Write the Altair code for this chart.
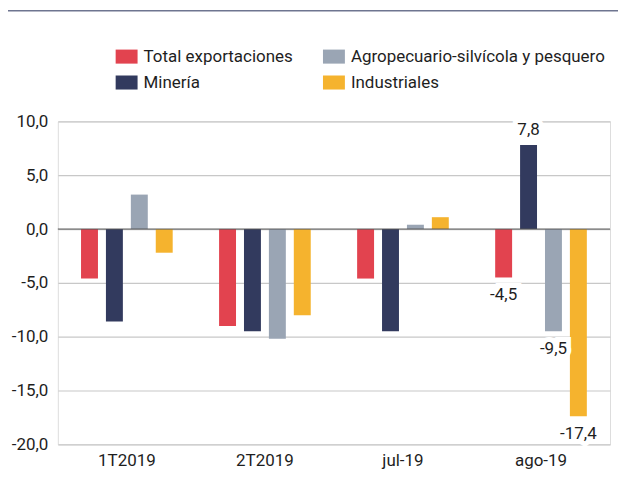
import altair as alt
import pandas as pd

periods = ["1T2019", "2T2019", "jul-19", "ago-19"]
series = ["Total exportaciones", "Minería", "Agropecuario-silvícola y pesquero", "Industriales"]
total = [-4.6, -9.0, -4.6, -4.5]
mineria = [-8.6, -9.5, -9.5, 7.8]
agro = [3.2, -10.2, 0.4, -9.5]
industriales = [-2.2, -8.0, 1.1, -17.4]
series_colors = ["#E2434F", "#323A5E", "#9AA5B4", "#F5B32E"]
labeled_period = "ago-19"
y_ticks = [-20, -15, -10, -5, 0, 5, 10]

values_by_series = dict(zip(series, [total, mineria, agro, industriales]))
rows = []
for s in series:
    for p, v in zip(periods, values_by_series[s]):
        rows.append({"periodo": p, "serie": s, "valor": v,
                     "etiqueta": f"{v:.1f}".replace(".", ",")})
df = pd.DataFrame(rows)

FONT = "Roboto"
TXT = "#1E1E1E"
FS = 17
W, H = 554, 324

x_enc = alt.X("periodo:N", sort=periods,
              scale=alt.Scale(paddingInner=0.336, paddingOuter=0.168),
              axis=alt.Axis(title=None, labelAngle=0, domain=False, ticks=False,
                            labelPadding=8, labelFontSize=FS, labelColor=TXT,
                            labelFont=FONT))
xo_enc = alt.XOffset("serie:N", sort=series,
                     scale=alt.Scale(paddingInner=0.32, paddingOuter=0))
y_enc = alt.Y("valor:Q", scale=alt.Scale(domain=[-20, 10], nice=False),
              axis=alt.Axis(title=None, values=y_ticks,
                            labelExpr="(datum.value < 0 ? '-' : '') + replace(format(abs(datum.value), '.1f'), '.', ',')",
                            domain=False, ticks=False, gridColor="#C8C8C8",
                            gridWidth=1.2, labelPadding=10, labelFontSize=FS,
                            labelColor=TXT, labelFont=FONT))

base = alt.Chart(df)

bars = base.mark_bar().encode(
    x=x_enc, xOffset=xo_enc, y=y_enc,
    color=alt.Color("serie:N",
                    scale=alt.Scale(domain=series, range=series_colors),
                    legend=alt.Legend(title=None, orient="none", legendX=58, legendY=-76,
                                      columns=2, columnPadding=30, rowPadding=7,
                                      symbolType="M-1,-0.64H1V0.64H-1Z",
                                      symbolSize=484, symbolStrokeWidth=0,
                                      symbolOpacity=1,
                                      labelFontSize=FS, labelColor=TXT,
                                      labelFont=FONT, labelOffset=6, labelLimit=300))
)

zero = alt.Chart(pd.DataFrame({"y": [0]})).mark_rule(color="#555555", strokeWidth=1).encode(
    y=alt.Y("y:Q"))

lab = base.transform_filter(alt.datum.periodo == labeled_period)
pos = lab.transform_filter(alt.datum.valor > 0)
neg = lab.transform_filter(alt.datum.valor < 0)

def text_layers(src, baseline, dy):
    enc = dict(x=alt.X("periodo:N", sort=periods),
               xOffset=alt.XOffset("serie:N", sort=series),
               y="valor:Q", text="etiqueta:N")
    halo = src.mark_text(baseline=baseline, dy=dy, fontSize=FS, font=FONT,
                         stroke="white", strokeWidth=10, color="white").encode(**enc)
    txt = src.mark_text(baseline=baseline, dy=dy, fontSize=FS, font=FONT,
                        color=TXT).encode(**enc)
    return [halo, txt]

top_line = alt.Chart(pd.DataFrame({"a": [0]})).mark_rule(
    color="#6E7590", strokeWidth=1.6).encode(
    x=alt.value(-50), x2=alt.value(W + 8), y=alt.value(-111))

chart = alt.layer(
    bars, zero, *text_layers(pos, "bottom", -6), *text_layers(neg, "top", 10), top_line
).properties(
    width=W, height=H,
    padding={"left": 50, "top": 113, "right": 8, "bottom": 28},
    autosize=alt.AutoSizeParams(type="none"),
).configure_view(stroke=None).configure(font=FONT)

chart.save("out.html", embed_options={"renderer": "svg", "actions": False})
